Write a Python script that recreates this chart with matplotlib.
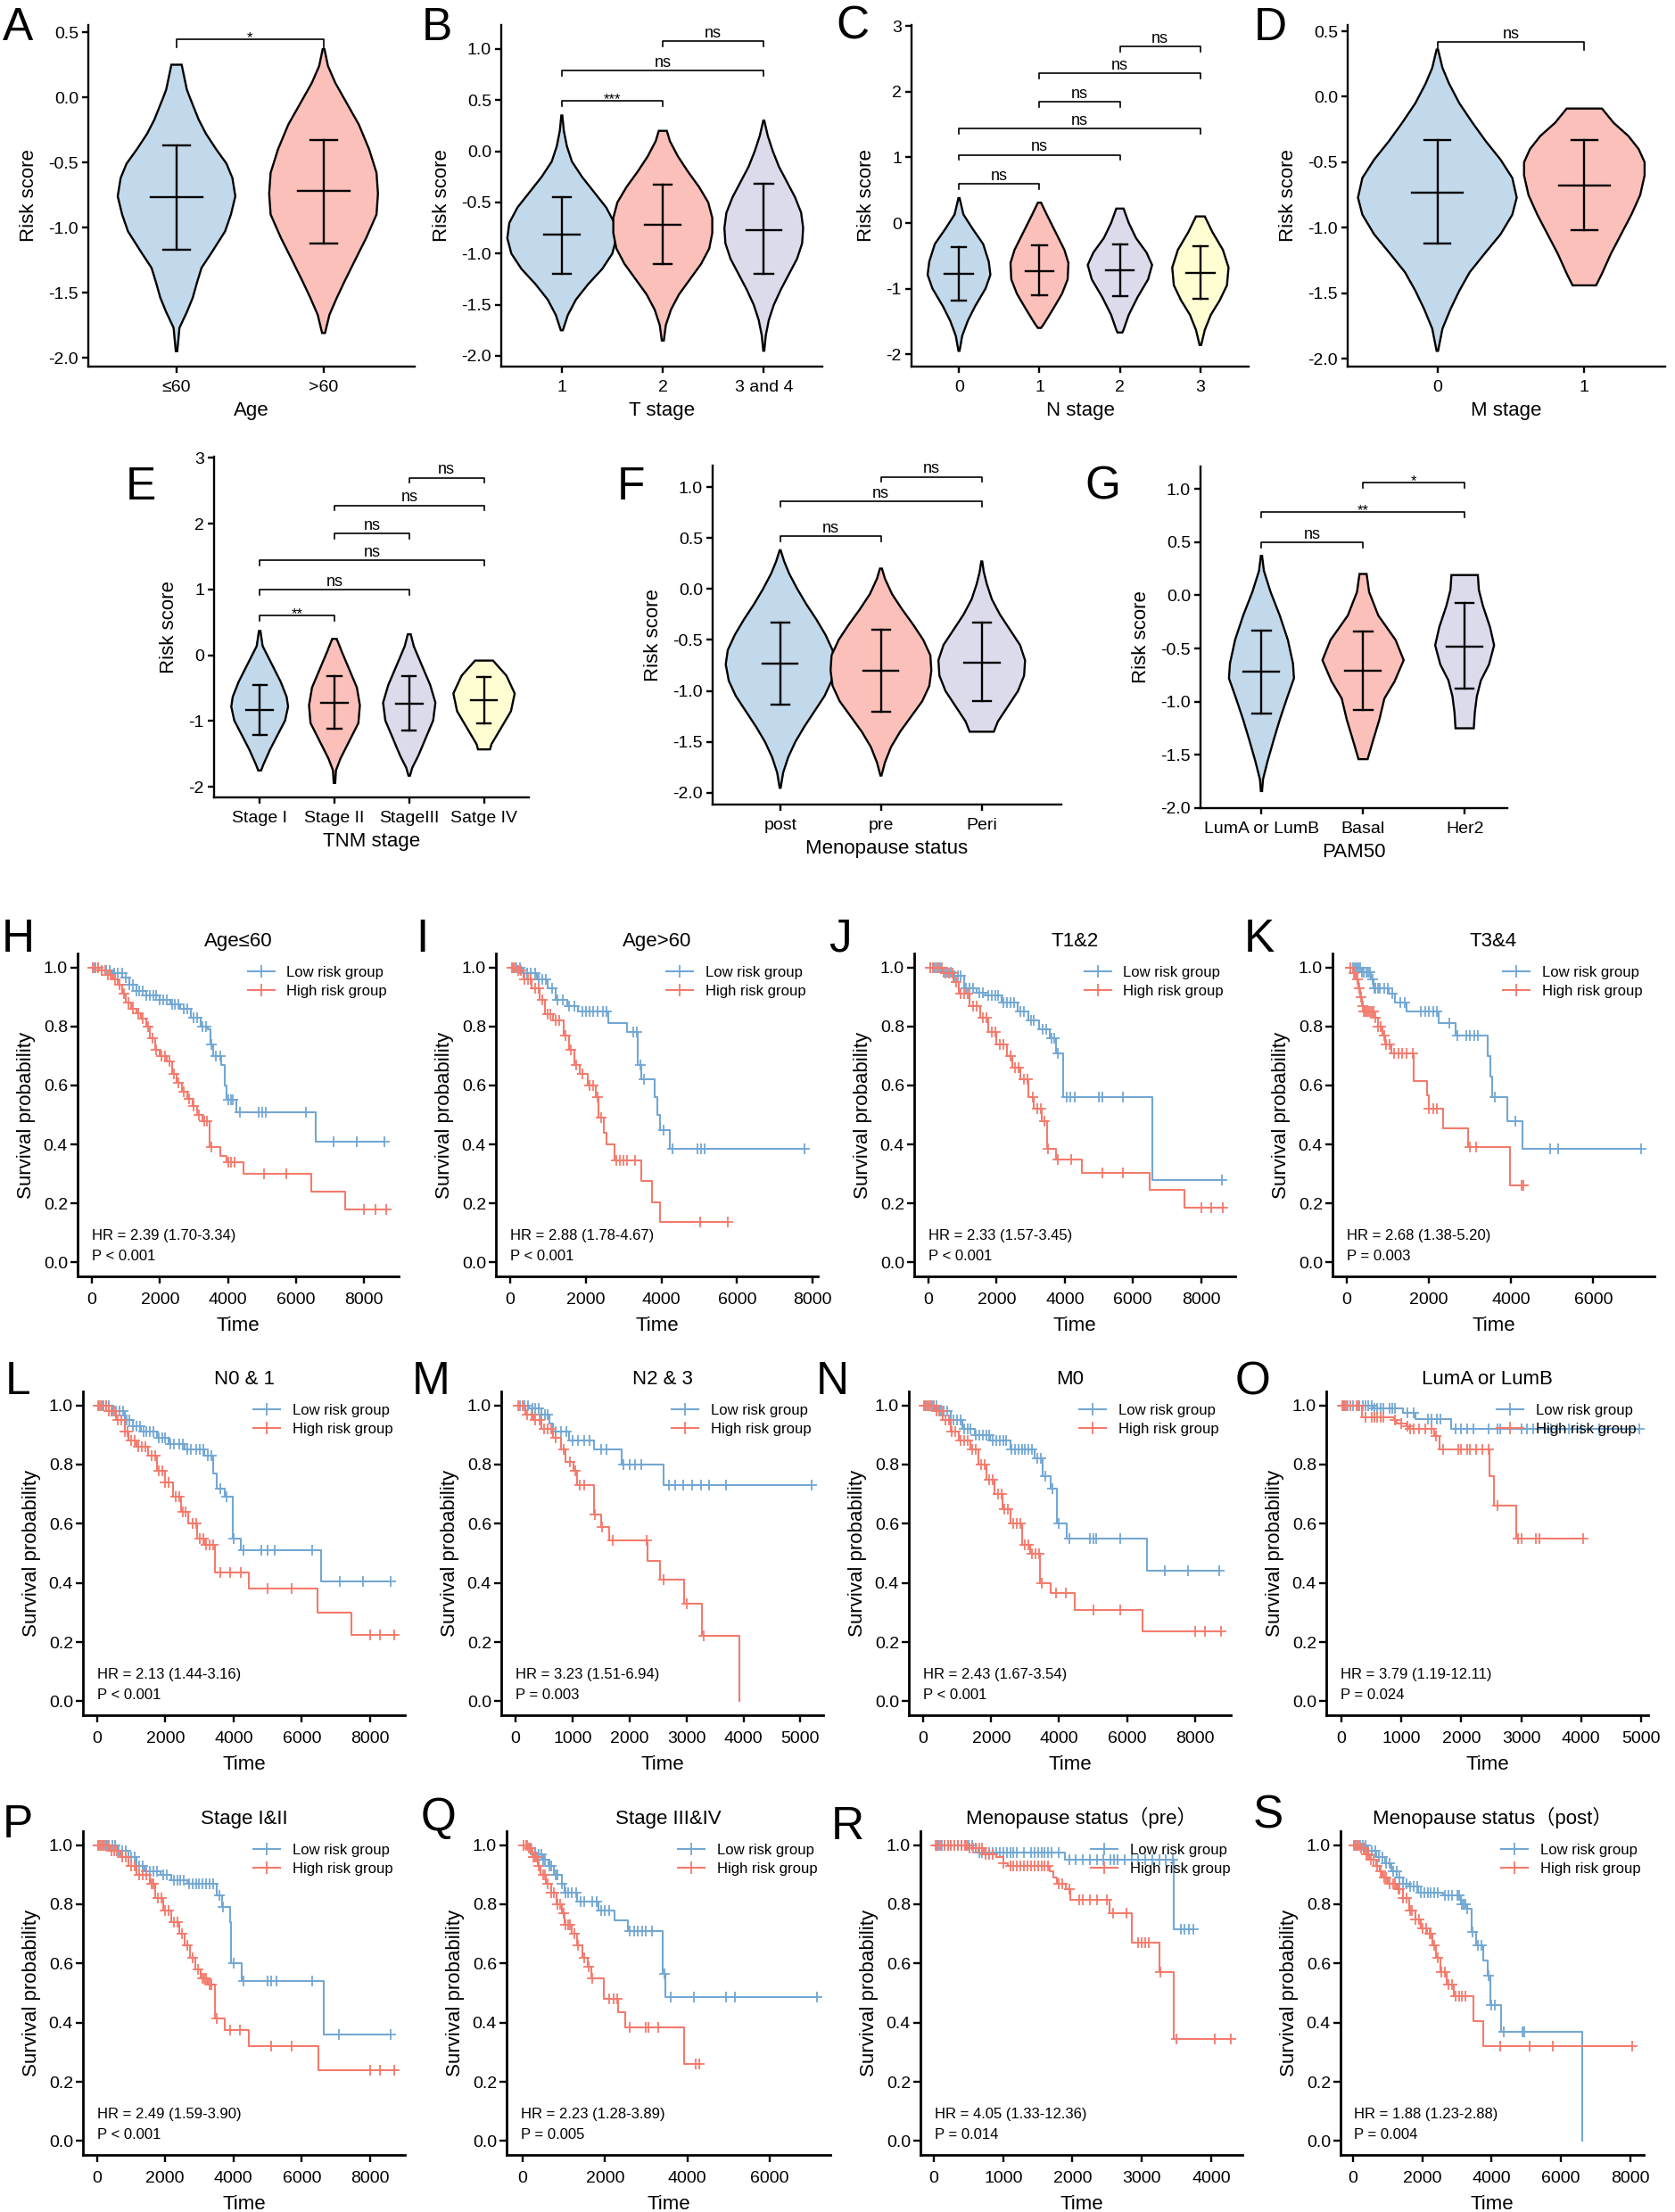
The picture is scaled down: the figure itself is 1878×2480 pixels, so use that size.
import numpy as np
import matplotlib
matplotlib.use('Agg')
import matplotlib.pyplot as plt
from matplotlib.lines import Line2D

plt.rcParams['font.family'] = ['Liberation Sans', 'Noto Sans CJK SC', 'DejaVu Sans']
plt.rcParams['axes.unicode_minus'] = False

W, H = 1878, 2480

BLUE_FILL = '#C2D9EB'
RED_FILL = '#FBC0B9'
PURPLE_FILL = '#DCDBEC'
YELLOW_FILL = '#FFFED2'
LOW_COL = '#72A7D3'
HIGH_COL = '#F47A6C'

# ---------------- violin panels (A-G) ----------------
# profile: y values and half widths (category units), mean and mean +/- sd

age_labels = ['≤60', '>60']
age_prof_y = [[-1.95, -1.77, -1.65, -1.54, -1.42, -1.31, -1.19, -1.03, -0.90, -0.76, -0.62, -0.51, -0.40, -0.28, -0.17, 0.0, 0.06, 0.25],
              [-1.81, -1.67, -1.54, -1.42, -1.26, -1.08, -0.90, -0.74, -0.58, -0.40, -0.21, -0.05, 0.11, 0.24, 0.37]]
age_prof_w = [[0.005, 0.02, 0.07, 0.11, 0.14, 0.17, 0.24, 0.33, 0.37, 0.40, 0.38, 0.34, 0.27, 0.20, 0.15, 0.09, 0.07, 0.035],
              [0.01, 0.04, 0.09, 0.14, 0.21, 0.29, 0.36, 0.37, 0.36, 0.31, 0.24, 0.16, 0.08, 0.03, 0.006]]
age_mean = [-0.77, -0.72]
age_lo = [-1.17, -1.12]
age_hi = [-0.37, -0.33]
age_pairs = [(0, 1)]
age_pair_y = [0.445]
age_pair_txt = ['*']

t_labels = ['1', '2', '3 and 4']
t_prof_y = [[-1.75, -1.6, -1.45, -1.3, -1.15, -1.0, -0.85, -0.7, -0.55, -0.4, -0.25, -0.1, 0.05, 0.2, 0.35],
            [-1.85, -1.7, -1.55, -1.4, -1.25, -1.1, -0.95, -0.8, -0.65, -0.5, -0.35, -0.2, -0.05, 0.1, 0.2],
            [-1.95, -1.8, -1.65, -1.5, -1.35, -1.2, -1.05, -0.9, -0.75, -0.6, -0.45, -0.3, -0.15, 0.0, 0.15, 0.3]]
t_prof_w = [[0.01, 0.06, 0.14, 0.26, 0.40, 0.50, 0.54, 0.52, 0.44, 0.32, 0.20, 0.10, 0.05, 0.02, 0.005],
            [0.01, 0.03, 0.08, 0.16, 0.27, 0.38, 0.46, 0.49, 0.49, 0.45, 0.36, 0.25, 0.15, 0.07, 0.04],
            [0.005, 0.02, 0.05, 0.10, 0.17, 0.25, 0.33, 0.38, 0.39, 0.37, 0.31, 0.23, 0.15, 0.09, 0.04, 0.005]]
t_mean = [-0.81, -0.72, -0.77]
t_lo = [-1.2, -1.1, -1.2]
t_hi = [-0.45, -0.33, -0.32]
t_pairs = [(0, 1), (0, 2), (1, 2)]
t_pair_y = [0.49, 0.79, 1.08]
t_pair_txt = ['***', 'ns', 'ns']

n_labels = ['0', '1', '2', '3']
n_prof_y = [[-1.95, -1.72, -1.49, -1.27, -1.0, -0.79, -0.59, -0.32, -0.09, 0.13, 0.38],
            [-1.6, -1.54, -1.31, -1.08, -0.86, -0.61, -0.41, -0.14, 0.13, 0.31],
            [-1.67, -1.63, -1.4, -1.13, -0.86, -0.64, -0.45, -0.23, 0.0, 0.22],
            [-1.86, -1.63, -1.4, -1.18, -0.95, -0.68, -0.41, -0.14, 0.1]]
n_prof_w = [[0.007, 0.04, 0.11, 0.20, 0.33, 0.39, 0.37, 0.30, 0.17, 0.055, 0.007],
            [0.02, 0.055, 0.17, 0.28, 0.35, 0.36, 0.31, 0.20, 0.09, 0.02],
            [0.03, 0.045, 0.11, 0.22, 0.35, 0.40, 0.33, 0.20, 0.11, 0.045],
            [0.01, 0.055, 0.13, 0.24, 0.33, 0.35, 0.28, 0.15, 0.055]]
n_mean = [-0.78, -0.73, -0.72, -0.76]
n_lo = [-1.19, -1.1, -1.11, -1.16]
n_hi = [-0.37, -0.34, -0.32, -0.36]
n_pairs = [(0, 1), (0, 2), (0, 3), (1, 2), (1, 3), (2, 3)]
n_pair_y = [0.6, 1.04, 1.44, 1.85, 2.28, 2.69]
n_pair_txt = ['ns', 'ns', 'ns', 'ns', 'ns', 'ns']

m_labels = ['0', '1']
m_prof_y = [[-1.94, -1.77, -1.62, -1.48, -1.34, -1.2, -1.05, -0.9, -0.77, -0.62, -0.48, -0.34, -0.2, -0.05, 0.1, 0.22, 0.36],
            [-1.44, -1.35, -1.2, -1.05, -0.9, -0.75, -0.6, -0.5, -0.4, -0.3, -0.2, -0.09]]
m_prof_w = [[0.005, 0.035, 0.09, 0.15, 0.22, 0.32, 0.43, 0.51, 0.54, 0.51, 0.43, 0.33, 0.24, 0.15, 0.08, 0.035, 0.005],
            [0.08, 0.12, 0.18, 0.25, 0.32, 0.38, 0.41, 0.41, 0.37, 0.30, 0.20, 0.12]]
m_mean = [-0.73, -0.68]
m_lo = [-1.12, -1.02]
m_hi = [-0.33, -0.33]
m_pairs = [(0, 1)]
m_pair_y = [0.42]
m_pair_txt = ['ns']

tnm_labels = ['Stage I', 'Stage II', 'StageIII', 'Satge IV']
tnm_prof_y = [[-1.75, -1.66, -1.43, -1.21, -0.99, -0.78, -0.63, -0.4, -0.13, 0.14, 0.37],
              [-1.94, -1.75, -1.57, -1.3, -1.03, -0.76, -0.49, -0.22, 0.05, 0.25],
              [-1.83, -1.71, -1.53, -1.26, -0.99, -0.72, -0.45, -0.13, 0.14, 0.32],
              [-1.43, -1.35, -1.12, -0.85, -0.58, -0.31, -0.08]]
tnm_prof_w = [[0.02, 0.05, 0.14, 0.24, 0.34, 0.38, 0.36, 0.28, 0.16, 0.04, 0.01],
              [0.01, 0.02, 0.08, 0.20, 0.32, 0.34, 0.30, 0.20, 0.10, 0.03],
              [0.01, 0.04, 0.12, 0.22, 0.32, 0.35, 0.28, 0.16, 0.06, 0.02],
              [0.08, 0.10, 0.22, 0.36, 0.41, 0.30, 0.12]]
tnm_mean = [-0.83, -0.72, -0.74, -0.68]
tnm_lo = [-1.21, -1.11, -1.14, -1.04]
tnm_hi = [-0.45, -0.32, -0.32, -0.33]
tnm_pairs = [(0, 1), (0, 2), (0, 3), (1, 2), (1, 3), (2, 3)]
tnm_pair_y = [0.6, 1.0, 1.45, 1.85, 2.28, 2.7]
tnm_pair_txt = ['**', 'ns', 'ns', 'ns', 'ns', 'ns']

meno_labels = ['post', 'pre', 'Peri']
meno_prof_y = [[-1.95, -1.8, -1.65, -1.5, -1.35, -1.2, -1.05, -0.9, -0.74, -0.6, -0.45, -0.3, -0.15, 0.0, 0.15, 0.27, 0.38],
               [-1.83, -1.7, -1.55, -1.4, -1.25, -1.1, -0.95, -0.8, -0.65, -0.5, -0.35, -0.2, -0.05, 0.1, 0.2],
               [-1.4, -1.3, -1.15, -1.0, -0.85, -0.7, -0.55, -0.4, -0.25, -0.1, 0.05, 0.17, 0.27]]
meno_prof_w = [[0.005, 0.03, 0.08, 0.15, 0.24, 0.34, 0.44, 0.51, 0.54, 0.52, 0.45, 0.36, 0.26, 0.17, 0.09, 0.04, 0.005],
               [0.005, 0.04, 0.10, 0.19, 0.30, 0.41, 0.48, 0.50, 0.49, 0.42, 0.32, 0.21, 0.11, 0.04, 0.01],
               [0.12, 0.16, 0.26, 0.36, 0.42, 0.43, 0.38, 0.28, 0.18, 0.10, 0.05, 0.02, 0.005]]
meno_mean = [-0.73, -0.8, -0.72]
meno_lo = [-1.13, -1.2, -1.1]
meno_hi = [-0.33, -0.4, -0.33]
meno_pairs = [(0, 1), (0, 2), (1, 2)]
meno_pair_y = [0.52, 0.86, 1.1]
meno_pair_txt = ['ns', 'ns', 'ns']

pam_labels = ['LumA or LumB', 'Basal', 'Her2']
pam_prof_y = [[-1.84, -1.73, -1.56, -1.36, -1.17, -0.97, -0.78, -0.64, -0.42, -0.19, 0.03, 0.23, 0.37],
              [-1.54, -1.36, -1.17, -0.97, -0.81, -0.61, -0.42, -0.19, 0.03, 0.2],
              [-1.25, -1.1, -0.95, -0.8, -0.65, -0.47, -0.3, -0.1, 0.05, 0.19]]
pam_prof_w = [[0.006, 0.015, 0.06, 0.12, 0.18, 0.25, 0.32, 0.31, 0.26, 0.18, 0.09, 0.024, 0.006],
              [0.045, 0.10, 0.16, 0.21, 0.31, 0.40, 0.32, 0.15, 0.06, 0.035],
              [0.09, 0.10, 0.12, 0.16, 0.24, 0.29, 0.25, 0.18, 0.14, 0.13]]
pam_mean = [-0.72, -0.71, -0.48]
pam_lo = [-1.11, -1.08, -0.88]
pam_hi = [-0.33, -0.34, -0.07]
pam_pairs = [(0, 1), (0, 2), (1, 2)]
pam_pair_y = [0.5, 0.78, 1.06]
pam_pair_txt = ['ns', '**', '*']

# ---------------- survival panels (H-S) ----------------
# event times / survival after each event, censor times

H_low_t = [300, 600, 900, 1100, 1300, 1600, 2000, 2300, 2600, 2900, 3200, 3420, 3480, 3560, 3800, 3900, 3960, 4250, 6590]
H_low_s = [0.99, 0.98, 0.965, 0.94, 0.92, 0.905, 0.89, 0.875, 0.86, 0.83, 0.80, 0.79, 0.74, 0.70, 0.67, 0.60, 0.55, 0.51, 0.41]
H_low_c = [80, 180, 300, 420, 520, 650, 760, 880, 1000, 1100, 1200, 1300, 1400, 1500, 1600, 1700, 1800, 1900, 2000, 2100, 2200, 2350, 2450, 2550, 2700, 2800, 3000, 3100, 3250, 3350, 3520, 3650, 3780, 4000, 4080, 4150, 4350, 4900, 5000, 5100, 6300, 7100, 7800, 8600]
H_high_t = [200, 400, 600, 750, 900, 1000, 1150, 1300, 1450, 1600, 1700, 1850, 2000, 2200, 2350, 2500, 2650, 2800, 2950, 3100, 3250, 3470, 3770, 3950, 4470, 6460, 7450]
H_high_s = [0.99, 0.975, 0.96, 0.94, 0.91, 0.88, 0.86, 0.845, 0.825, 0.80, 0.76, 0.72, 0.70, 0.68, 0.64, 0.61, 0.58, 0.555, 0.53, 0.50, 0.48, 0.39, 0.36, 0.34, 0.30, 0.24, 0.18]
H_high_c = [30, 100, 180, 280, 380, 480, 560, 680, 800, 950, 1080, 1200, 1350, 1500, 1650, 1780, 1900, 2050, 2150, 2280, 2420, 2550, 2700, 2850, 3000, 3150, 3300, 3380, 3520, 4000, 4100, 4200, 5060, 5720, 8000, 8350, 8650]

I_low_t = [300, 700, 1000, 1200, 1500, 1800, 2600, 3100, 3380, 3460, 3820, 3900, 3960, 4230]
I_low_s = [0.98, 0.96, 0.93, 0.89, 0.87, 0.85, 0.81, 0.78, 0.67, 0.62, 0.56, 0.50, 0.45, 0.385]
I_low_c = [80, 160, 250, 350, 450, 550, 650, 750, 850, 950, 1100, 1250, 1400, 1550, 1700, 1900, 2000, 2100, 2200, 2300, 2450, 2550, 3250, 3350, 3450, 3530, 4050, 4300, 4950, 5050, 5150, 7790]
I_high_t = [140, 350, 570, 780, 920, 1130, 1420, 1560, 1700, 1840, 2050, 2270, 2340, 2480, 2550, 2760, 3470, 3750, 3970]
I_high_s = [0.99, 0.96, 0.93, 0.89, 0.84, 0.82, 0.77, 0.72, 0.67, 0.64, 0.60, 0.56, 0.49, 0.44, 0.40, 0.345, 0.275, 0.205, 0.138]
I_high_c = [50, 120, 200, 280, 380, 460, 540, 650, 750, 850, 980, 1050, 1200, 1300, 1450, 1600, 1750, 1900, 2100, 2200, 2300, 2400, 2800, 2900, 3000, 3100, 3300, 5030, 5750]

J_low_t = [400, 740, 1050, 1400, 1680, 2150, 2620, 2940, 3250, 3570, 3730, 3960, 6560]
J_low_s = [0.985, 0.97, 0.93, 0.915, 0.905, 0.88, 0.85, 0.82, 0.79, 0.76, 0.71, 0.56, 0.28]
J_low_c = [60, 150, 250, 350, 450, 550, 650, 750, 850, 950, 1100, 1200, 1300, 1500, 1600, 1750, 1850, 1950, 2050, 2200, 2300, 2400, 2500, 2700, 2800, 3000, 3100, 3350, 3450, 3600, 3700, 3800, 4050, 4150, 4300, 5000, 5100, 5700, 8600]
J_high_t = [420, 740, 900, 1210, 1530, 1760, 2000, 2310, 2470, 2700, 2940, 3100, 3330, 3490, 3730, 4510, 6480, 7500]
J_high_s = [0.98, 0.95, 0.91, 0.87, 0.83, 0.78, 0.74, 0.70, 0.66, 0.62, 0.56, 0.52, 0.48, 0.385, 0.35, 0.305, 0.245, 0.185]
J_high_c = [40, 120, 200, 300, 400, 500, 600, 700, 820, 950, 1050, 1150, 1300, 1400, 1600, 1700, 1850, 1950, 2100, 2200, 2400, 2550, 2650, 2800, 2900, 3050, 3200, 3300, 3400, 3500, 3800, 4200, 5100, 5700, 8000, 8300, 8650]

K_low_t = [360, 580, 650, 1010, 1160, 1450, 2230, 2640, 3430, 3500, 3540, 3900, 4270]
K_low_s = [0.985, 0.96, 0.93, 0.91, 0.88, 0.85, 0.81, 0.77, 0.70, 0.63, 0.56, 0.48, 0.385]
K_low_c = [150, 200, 230, 280, 320, 370, 420, 480, 520, 560, 620, 680, 700, 750, 800, 900, 1000, 1100, 1300, 1400, 1800, 1900, 2000, 2100, 2200, 2500, 2700, 2900, 3000, 3100, 3200, 3600, 4100, 4950, 5150, 7160]
K_high_t = [145, 220, 290, 330, 360, 400, 650, 760, 870, 940, 1085, 1630, 1950, 1990, 2350, 2960, 3980]
K_high_s = [0.98, 0.96, 0.93, 0.90, 0.87, 0.85, 0.83, 0.80, 0.77, 0.74, 0.71, 0.615, 0.565, 0.52, 0.455, 0.39, 0.26]
K_high_c = [80, 180, 250, 300, 350, 390, 420, 450, 480, 520, 560, 600, 640, 700, 760, 820, 900, 950, 1050, 1150, 1250, 1350, 1450, 1600, 2000, 2100, 2200, 3000, 3150, 4250, 4300]

L_low_t = [450, 800, 1035, 1270, 1740, 2100, 2560, 3150, 3390, 3500, 3740, 3980, 4210, 6560]
L_low_s = [0.98, 0.95, 0.93, 0.91, 0.89, 0.87, 0.85, 0.83, 0.77, 0.72, 0.69, 0.55, 0.51, 0.405]
L_low_c = [60, 150, 250, 350, 450, 550, 650, 750, 850, 950, 1050, 1150, 1250, 1350, 1450, 1550, 1650, 1800, 1900, 2000, 2150, 2250, 2400, 2500, 2650, 2750, 2900, 3000, 3100, 3250, 3350, 3600, 3800, 4000, 4300, 4800, 5000, 5200, 6300, 7100, 7800, 8600]
L_high_t = [330, 560, 800, 920, 1150, 1500, 1740, 1980, 2210, 2450, 2680, 2920, 3150, 3460, 4450, 6450, 7460]
L_high_s = [0.98, 0.95, 0.91, 0.88, 0.86, 0.83, 0.78, 0.74, 0.69, 0.64, 0.60, 0.55, 0.53, 0.435, 0.38, 0.30, 0.225]
L_high_c = [30, 100, 180, 260, 340, 420, 500, 600, 700, 800, 900, 1000, 1100, 1200, 1300, 1400, 1600, 1700, 1800, 1900, 2000, 2100, 2300, 2400, 2500, 2600, 2800, 2900, 3000, 3100, 3200, 3300, 3400, 3600, 3900, 4200, 5000, 5700, 8000, 8300, 8700]

M_low_t = [240, 450, 600, 660, 940, 1370, 1860, 2600]
M_low_s = [0.99, 0.97, 0.94, 0.91, 0.88, 0.85, 0.80, 0.73]
M_low_c = [80, 150, 220, 300, 350, 400, 450, 520, 560, 700, 800, 900, 1000, 1100, 1200, 1300, 1500, 1600, 1900, 2000, 2100, 2200, 2700, 2800, 2950, 3100, 3250, 3400, 3700, 5200]
M_high_t = [170, 310, 450, 660, 800, 870, 1010, 1080, 1370, 1510, 1650, 2320, 2540, 2960, 3270, 3930]
M_high_s = [0.97, 0.95, 0.92, 0.89, 0.85, 0.81, 0.78, 0.73, 0.63, 0.59, 0.545, 0.475, 0.41, 0.33, 0.22, 0.0]
M_high_c = [50, 120, 200, 280, 350, 420, 500, 560, 620, 700, 850, 950, 1050, 1130, 1200, 1400, 1520, 1700, 2300, 2600, 3000, 3300]

N_low_t = [450, 800, 1160, 1510, 1980, 2570, 3280, 3510, 3750, 3940, 4220, 6580]
N_low_s = [0.98, 0.95, 0.92, 0.90, 0.88, 0.85, 0.82, 0.76, 0.72, 0.60, 0.55, 0.44]
N_low_c = [50, 120, 200, 300, 400, 500, 600, 700, 800, 900, 1000, 1100, 1200, 1300, 1400, 1550, 1650, 1750, 1850, 1950, 2050, 2150, 2250, 2350, 2450, 2600, 2700, 2800, 2900, 3000, 3100, 3200, 3350, 3450, 3600, 3800, 4000, 4300, 4900, 5000, 5100, 5800, 7100, 7800, 8700]
N_high_t = [330, 570, 800, 1040, 1390, 1630, 1860, 2100, 2330, 2570, 2920, 3160, 3440, 3750, 4460, 6460]
N_high_s = [0.98, 0.95, 0.91, 0.88, 0.85, 0.80, 0.75, 0.70, 0.65, 0.60, 0.53, 0.50, 0.40, 0.365, 0.31, 0.235]
N_high_c = [30, 90, 160, 240, 320, 400, 480, 560, 650, 750, 850, 950, 1100, 1200, 1300, 1450, 1550, 1700, 1800, 1950, 2050, 2200, 2300, 2400, 2500, 2650, 2750, 2850, 3000, 3100, 3200, 3300, 3400, 3500, 3900, 4200, 5000, 5800, 8000, 8300, 8750]

O_low_t = [540, 1030, 1230, 1830]
O_low_s = [0.99, 0.975, 0.955, 0.92]
O_low_c = [30, 60, 100, 200, 280, 350, 400, 450, 500, 550, 600, 650, 700, 800, 850, 900, 1100, 1200, 1450, 1500, 1600, 1650, 1900, 2000, 2100, 2200, 2450, 2600, 2650, 3000, 3100, 3200, 3400, 3500, 3600, 3800, 4000, 4300, 4975]
O_high_t = [340, 880, 930, 1080, 1130, 1550, 1630, 2470, 2545, 2920]
O_high_s = [0.96, 0.95, 0.94, 0.93, 0.92, 0.895, 0.85, 0.76, 0.66, 0.55]
O_high_c = [20, 50, 80, 150, 250, 300, 400, 500, 550, 600, 650, 700, 900, 1000, 1100, 1150, 1200, 1300, 1400, 1500, 1580, 1700, 1950, 2000, 2100, 2150, 2250, 2350, 2450, 2600, 2950, 3000, 3250, 3300, 4030]

P_low_t = [610, 920, 1160, 1390, 1860, 2180, 2640, 3510, 3660, 3900, 3940, 4240, 6640]
P_low_s = [0.98, 0.96, 0.93, 0.91, 0.90, 0.88, 0.87, 0.83, 0.79, 0.74, 0.60, 0.54, 0.36]
P_low_c = [50, 120, 200, 280, 360, 450, 530, 650, 750, 850, 1000, 1100, 1250, 1350, 1450, 1550, 1650, 1750, 1950, 2050, 2250, 2350, 2450, 2550, 2700, 2800, 2900, 3000, 3100, 3200, 3300, 3400, 3600, 3700, 4000, 4300, 5000, 5100, 5250, 6300, 7100, 8600]
P_high_t = [375, 690, 920, 1160, 1550, 1710, 1940, 2180, 2410, 2570, 2720, 2880, 3040, 3240, 3470, 3740, 4440, 6480]
P_high_s = [0.98, 0.96, 0.93, 0.90, 0.87, 0.82, 0.78, 0.74, 0.70, 0.66, 0.62, 0.58, 0.55, 0.53, 0.415, 0.375, 0.32, 0.24]
P_high_c = [30, 100, 170, 250, 330, 420, 500, 600, 750, 850, 1000, 1100, 1250, 1350, 1450, 1600, 1650, 1800, 1900, 2000, 2100, 2250, 2350, 2500, 2650, 2800, 2950, 3100, 3150, 3200, 3300, 3350, 3500, 3900, 4200, 5100, 5700, 8000, 8300, 8700]

Q_low_t = [170, 300, 490, 620, 750, 950, 1010, 1330, 1850, 2240, 2560, 3400, 3470]
Q_low_s = [0.99, 0.97, 0.95, 0.93, 0.90, 0.87, 0.84, 0.81, 0.78, 0.745, 0.71, 0.565, 0.485]
Q_low_c = [100, 200, 300, 400, 450, 500, 550, 650, 700, 800, 850, 950, 1050, 1100, 1200, 1300, 1400, 1500, 1700, 1800, 1900, 2000, 2100, 2600, 2700, 2800, 2900, 3000, 3150, 3450, 3600, 4150, 4950, 5150, 7160]
Q_high_t = [100, 230, 360, 430, 560, 690, 820, 950, 1010, 1200, 1330, 1460, 1590, 1660, 1980, 2310, 2500, 3920]
Q_high_s = [0.99, 0.96, 0.93, 0.90, 0.87, 0.84, 0.80, 0.77, 0.73, 0.70, 0.66, 0.62, 0.59, 0.55, 0.48, 0.435, 0.385, 0.26]
Q_high_c = [30, 80, 150, 200, 250, 300, 350, 400, 500, 550, 600, 700, 750, 850, 900, 1000, 1050, 1100, 1150, 1250, 1350, 1500, 1600, 1700, 2100, 2200, 2300, 2600, 3000, 3050, 3300, 4200, 4300]

R_low_t = [570, 640, 1890, 3460]
R_low_s = [0.99, 0.975, 0.95, 0.715]
R_low_c = [50, 80, 120, 150, 200, 250, 300, 350, 400, 450, 500, 550, 600, 650, 700, 750, 800, 850, 900, 950, 1000, 1050, 1100, 1150, 1200, 1300, 1400, 1450, 1500, 1550, 1600, 1650, 1700, 1800, 1950, 2050, 2150, 2250, 2350, 2450, 2550, 2600, 2650, 2750, 2850, 2950, 3050, 3150, 3250, 3350, 3450, 3570, 3620, 3680, 3740]
R_high_t = [510, 720, 900, 1000, 1070, 1670, 1720, 1780, 1910, 1970, 2530, 2860, 3260, 3460]
R_high_s = [0.99, 0.97, 0.96, 0.94, 0.93, 0.91, 0.89, 0.87, 0.85, 0.815, 0.77, 0.67, 0.57, 0.345]
R_high_c = [20, 50, 100, 150, 200, 250, 300, 350, 400, 450, 480, 520, 560, 600, 650, 700, 750, 800, 850, 1000, 1100, 1150, 1200, 1250, 1300, 1350, 1400, 1450, 1500, 1550, 1600, 1650, 1800, 1850, 1950, 2100, 2150, 2250, 2350, 2500, 2580, 2780, 2950, 3000, 3050, 3100, 3270, 3500, 4050, 4280]

S_low_t = [410, 670, 930, 1100, 1270, 1440, 1620, 1870, 2600, 3120, 3290, 3420, 3550, 3760, 3890, 3950, 4280, 6620]
S_low_s = [0.98, 0.96, 0.94, 0.91, 0.89, 0.87, 0.86, 0.84, 0.83, 0.80, 0.785, 0.705, 0.66, 0.61, 0.56, 0.46, 0.37, 0.0]
S_low_c = [50, 120, 200, 280, 350, 450, 550, 650, 750, 850, 950, 1050, 1150, 1250, 1350, 1450, 1550, 1650, 1750, 1850, 1950, 2050, 2150, 2250, 2350, 2450, 2650, 2750, 2850, 3000, 3050, 3150, 3200, 3250, 3300, 3450, 3600, 3700, 3900, 4000, 4100, 4350, 4900, 4950]
S_high_t = [155, 330, 500, 670, 760, 840, 1010, 1270, 1440, 1620, 1790, 1960, 2130, 2300, 2390, 2520, 2690, 2900, 3460, 3760]
S_high_s = [0.99, 0.97, 0.95, 0.93, 0.91, 0.89, 0.87, 0.85, 0.82, 0.78, 0.75, 0.72, 0.70, 0.66, 0.62, 0.57, 0.53, 0.49, 0.405, 0.32]
S_high_c = [30, 80, 150, 220, 300, 380, 450, 520, 600, 700, 800, 900, 950, 1050, 1150, 1200, 1300, 1350, 1450, 1550, 1650, 1700, 1800, 1900, 2000, 2100, 2200, 2250, 2350, 2450, 2550, 2650, 2750, 2850, 2950, 3050, 3150, 3250, 4240, 5100, 5750, 8050]

km_titles = ['Age≤60', 'Age>60', 'T1&2', 'T3&4', 'N0 & 1', 'N2 & 3', 'M0', 'LumA or LumB',
             'Stage I&II', 'Stage III&IV', 'Menopause status（pre）', 'Menopause status（post）']
km_hr = ['HR = 2.39 (1.70-3.34)', 'HR = 2.88 (1.78-4.67)', 'HR = 2.33 (1.57-3.45)', 'HR = 2.68 (1.38-5.20)',
         'HR = 2.13 (1.44-3.16)', 'HR = 3.23 (1.51-6.94)', 'HR = 2.43 (1.67-3.54)', 'HR = 3.79 (1.19-12.11)',
         'HR = 2.49 (1.59-3.90)', 'HR = 2.23 (1.28-3.89)', 'HR = 4.05 (1.33-12.36)', 'HR = 1.88 (1.23-2.88)']
km_p = ['P < 0.001', 'P < 0.001', 'P < 0.001', 'P = 0.003',
        'P < 0.001', 'P = 0.003', 'P < 0.001', 'P = 0.024',
        'P < 0.001', 'P = 0.005', 'P = 0.014', 'P = 0.004']


fig = plt.figure(figsize=(W / 100, H / 100), dpi=100)


def add_ax(x0, x1, y0, y1):
    # pixel box -> figure fraction
    return fig.add_axes([x0 / W, 1 - y1 / H, (x1 - x0) / W, (y1 - y0) / H])


def letter(x, y, s):
    fig.text(x / W, 1 - y / H, s, fontsize=37, ha='center', va='baseline')


def violin_panel(ax, labels, prof_y, prof_w, mean, lo, hi, colors, pairs, pair_y, pair_txt,
                 drop, xlim, ylim, yticks, yfmt, xlabel):
    for i in range(len(labels)):
        yy = np.array(prof_y[i])
        ww = np.array(prof_w[i])
        xs = np.concatenate([i + ww, (i - ww)[::-1]])
        ys = np.concatenate([yy, yy[::-1]])
        ax.fill(xs, ys, facecolor=colors[i], edgecolor='black', lw=1.7, zorder=2)
        ax.plot([i, i], [lo[i], hi[i]], color='black', lw=1.7, zorder=3)
        for v in (lo[i], hi[i]):
            ax.plot([i - 0.09, i + 0.09], [v, v], color='black', lw=1.7, zorder=3)
        ax.plot([i - 0.175, i + 0.175], [mean[i], mean[i]], color='black', lw=1.7, zorder=3)

    for (a, b), yb, t in zip(pairs, pair_y, pair_txt):
        ax.plot([a, a, b, b], [yb - drop, yb, yb, yb - drop], color='black', lw=1.2)
        if t == 'ns':
            ax.annotate(t, ((a + b) / 2, yb), xytext=(0, 3), textcoords='offset points',
                        ha='center', va='baseline', fontsize=13)
        else:
            ax.annotate(t, ((a + b) / 2, yb), xytext=(0, -2), textcoords='offset points',
                        ha='center', va='baseline', fontsize=12)

    ax.set_xlim(xlim)
    ax.set_ylim(ylim)
    ax.set_xticks(range(len(labels)))
    ax.set_xticklabels(labels, fontsize=14)
    ax.set_yticks(yticks)
    ax.set_yticklabels([yfmt % v for v in yticks], fontsize=14)
    ax.set_xlabel(xlabel, fontsize=16, labelpad=5)
    ax.set_ylabel('Risk score', fontsize=16, labelpad=8)
    for sp in ('top', 'right'):
        ax.spines[sp].set_visible(False)
    for sp in ('left', 'bottom'):
        ax.spines[sp].set_linewidth(1.7)
    ax.tick_params(axis='y', length=5, width=1.7, pad=3)
    ax.tick_params(axis='x', length=5, width=1.7, pad=6)


def km_curve(ax, t, s, cens, color):
    t = np.array(t, dtype=float)
    s = np.array(s, dtype=float)
    c = np.array(cens, dtype=float)
    end = max(t.max(), c.max())
    tt = np.concatenate([[0.0], t, [end]])
    ss = np.concatenate([[1.0], s, [s[-1]]])
    ax.step(tt, ss, where='post', color=color, lw=1.5)
    idx = np.searchsorted(t, c, side='right')
    lev = np.where(idx == 0, 1.0, s[np.maximum(idx - 1, 0)])
    ax.plot(c, lev, ls='none', marker='+', ms=8, mew=1.3, color=color)


def km_panel(ax, low, high, title, hr, p, xlim, xticks):
    km_curve(ax, low[0], low[1], low[2], LOW_COL)
    km_curve(ax, high[0], high[1], high[2], HIGH_COL)
    ax.set_xlim(xlim)
    ax.set_ylim(-0.047, 1.047)
    ax.set_xticks(xticks)
    ax.set_xticklabels([str(v) for v in xticks], fontsize=14)
    yt = [0.0, 0.2, 0.4, 0.6, 0.8, 1.0]
    ax.set_yticks(yt)
    ax.set_yticklabels(['%.1f' % v for v in yt], fontsize=14)
    ax.set_xlabel('Time', fontsize=16, labelpad=7)
    ax.set_ylabel('Survival probability', fontsize=16, labelpad=6)
    ax.set_title(title, fontsize=16, pad=6)
    for sp in ('top', 'right'):
        ax.spines[sp].set_visible(False)
    for sp in ('left', 'bottom'):
        ax.spines[sp].set_linewidth(2.0)
    ax.tick_params(axis='y', length=6, width=1.7, pad=2)
    ax.tick_params(axis='x', length=6, width=1.7, pad=7)
    handles = [Line2D([], [], color=LOW_COL, lw=1.5, marker='+', ms=10, mew=1.3),
               Line2D([], [], color=HIGH_COL, lw=1.5, marker='+', ms=10, mew=1.3)]
    ax.legend(handles, ['Low risk group', 'High risk group'], loc='upper left',
              bbox_to_anchor=(0.53, 0.962), frameon=False, fontsize=12, handlelength=1.8,
              handletextpad=0.8, labelspacing=0.35, borderpad=0, borderaxespad=0)
    ax.text(0.045, 0.126, hr, transform=ax.transAxes, fontsize=12, va='center')
    ax.text(0.045, 0.062, p, transform=ax.transAxes, fontsize=12, va='center')


# ---- row 1: A-D ----
ax = add_ax(99, 465, 28, 411)
violin_panel(ax, age_labels, age_prof_y, age_prof_w, age_mean, age_lo, age_hi,
             [BLUE_FILL, RED_FILL], age_pairs, age_pair_y, age_pair_txt, 0.06,
             (-0.6, 1.62), (-2.068, 0.555), [-2.0, -1.5, -1.0, -0.5, 0.0, 0.5], '%.1f', 'Age')

ax = add_ax(562, 922, 28, 411)
violin_panel(ax, t_labels, t_prof_y, t_prof_w, t_mean, t_lo, t_hi,
             [BLUE_FILL, RED_FILL, PURPLE_FILL], t_pairs, t_pair_y, t_pair_txt, 0.05,
             (-0.6, 2.58), (-2.105, 1.235), [-2.0, -1.5, -1.0, -0.5, 0.0, 0.5, 1.0], '%.1f', 'T stage')

ax = add_ax(1022, 1400, 28, 411)
violin_panel(ax, n_labels, n_prof_y, n_prof_w, n_mean, n_lo, n_hi,
             [BLUE_FILL, RED_FILL, PURPLE_FILL, YELLOW_FILL], n_pairs, n_pair_y, n_pair_txt, 0.08,
             (-0.59, 3.6), (-2.19, 3.02), [-2, -1, 0, 1, 2, 3], '%d', 'N stage')

ax = add_ax(1511, 1867, 28, 411)
violin_panel(ax, m_labels, m_prof_y, m_prof_w, m_mean, m_lo, m_hi,
             [BLUE_FILL, RED_FILL], m_pairs, m_pair_y, m_pair_txt, 0.06,
             (-0.61, 1.55), (-2.06, 0.548), [-2.0, -1.5, -1.0, -0.5, 0.0, 0.5], '%.1f', 'M stage')

# ---- row 2: E-G ----
ax = add_ax(240, 593, 512, 894)
violin_panel(ax, tnm_labels, tnm_prof_y, tnm_prof_w, tnm_mean, tnm_lo, tnm_hi,
             [BLUE_FILL, RED_FILL, PURPLE_FILL, YELLOW_FILL], tnm_pairs, tnm_pair_y, tnm_pair_txt, 0.08,
             (-0.61, 3.6), (-2.16, 3.02), [-2, -1, 0, 1, 2, 3], '%d', 'TNM stage')

ax = add_ax(799, 1190, 522, 902)
violin_panel(ax, meno_labels, meno_prof_y, meno_prof_w, meno_mean, meno_lo, meno_hi,
             [BLUE_FILL, RED_FILL, PURPLE_FILL], meno_pairs, meno_pair_y, meno_pair_txt, 0.05,
             (-0.67, 2.79), (-2.114, 1.21), [-2.0, -1.5, -1.0, -0.5, 0.0, 0.5, 1.0], '%.1f',
             'Menopause status')

ax = add_ax(1346, 1690, 523, 906)
violin_panel(ax, pam_labels, pam_prof_y, pam_prof_w, pam_mean, pam_lo, pam_hi,
             [BLUE_FILL, RED_FILL, PURPLE_FILL], pam_pairs, pam_pair_y, pam_pair_txt, 0.05,
             (-0.6, 2.42), (-2.0, 1.21), [-2.0, -1.5, -1.0, -0.5, 0.0, 0.5, 1.0], '%.1f', 'PAM50')

# ---- KM rows ----
km_low = [(H_low_t, H_low_s, H_low_c), (I_low_t, I_low_s, I_low_c), (J_low_t, J_low_s, J_low_c),
          (K_low_t, K_low_s, K_low_c), (L_low_t, L_low_s, L_low_c), (M_low_t, M_low_s, M_low_c),
          (N_low_t, N_low_s, N_low_c), (O_low_t, O_low_s, O_low_c), (P_low_t, P_low_s, P_low_c),
          (Q_low_t, Q_low_s, Q_low_c), (R_low_t, R_low_s, R_low_c), (S_low_t, S_low_s, S_low_c)]
km_high = [(H_high_t, H_high_s, H_high_c), (I_high_t, I_high_s, I_high_c), (J_high_t, J_high_s, J_high_c),
           (K_high_t, K_high_s, K_high_c), (L_high_t, L_high_s, L_high_c), (M_high_t, M_high_s, M_high_c),
           (N_high_t, N_high_s, N_high_c), (O_high_t, O_high_s, O_high_c), (P_high_t, P_high_s, P_high_c),
           (Q_high_t, Q_high_s, Q_high_c), (R_high_t, R_high_s, R_high_c), (S_high_t, S_high_s, S_high_c)]

ticks8 = [0, 2000, 4000, 6000, 8000]
ticks6 = [0, 2000, 4000, 6000]
ticks5 = [0, 1000, 2000, 3000, 4000, 5000]
ticks4 = [0, 1000, 2000, 3000, 4000]

# pixel boxes (x0, x1, y0, y1), x limits, ticks
km_boxes = [(87, 447, 1069, 1431), (556, 917, 1069, 1431), (1025, 1385, 1069, 1431), (1494, 1855, 1069, 1431),
            (93, 454, 1560, 1923), (562, 923, 1560, 1923), (1019, 1380, 1560, 1923), (1487, 1848, 1560, 1923),
            (93, 454, 2053, 2416), (568, 931, 2053, 2416), (1032, 1393, 2053, 2416), (1503, 1843, 2053, 2416)]
km_xlims = [(-420, 9020), (-380, 8140), (-420, 9005), (-350, 7490),
            (-418, 9020), (-250, 5400), (-420, 9050), (-253, 5120),
            (-405, 9020), (-390, 7475), (-194, 4452), (-360, 8386)]
km_ticks = [ticks8, ticks8, ticks8, ticks6,
            ticks8, ticks5, ticks8, ticks5,
            ticks8, ticks6, ticks4, ticks8]

for i in range(12):
    x0, x1, y0, y1 = km_boxes[i]
    ax = add_ax(x0, x1, y0, y1)
    km_panel(ax, km_low[i], km_high[i], km_titles[i], km_hr[i], km_p[i], km_xlims[i], km_ticks[i])

# panel letters
for x, y, s in [(20, 45, 'A'), (490, 45, 'B'), (956, 43, 'C'), (1424, 45, 'D'),
                (158, 560, 'E'), (707, 560, 'F'), (1236, 560, 'G'),
                (20, 1067, 'H'), (473, 1067, 'I'), (942, 1067, 'J'), (1412, 1067, 'K'),
                (20, 1563, 'L'), (483, 1563, 'M'), (933, 1563, 'N'), (1405, 1563, 'O'),
                (20, 2060, 'P'), (492, 2052, 'Q'), (950, 2062, 'R'), (1422, 2050, 'S')]:
    letter(x, y, s)

fig.savefig('out.png', dpi=100)
